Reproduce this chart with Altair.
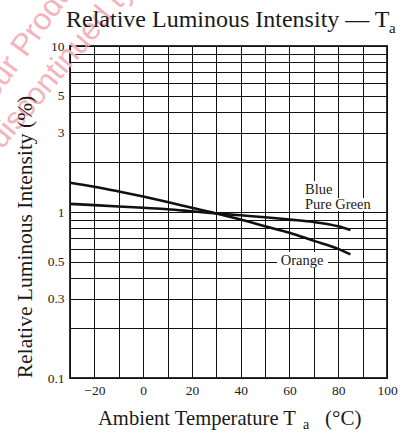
import altair as alt
import pandas as pd

# ---- data ----
temps = [-30, -20, -10, 0, 10, 20, 30, 40, 50, 60, 70, 80, 85]
orange_vals = [1.50, 1.42, 1.33, 1.24, 1.15, 1.06, 0.98, 0.90, 0.82, 0.75, 0.67, 0.60, 0.555]
blue_green_vals = [1.12, 1.10, 1.08, 1.06, 1.04, 1.01, 0.98, 0.955, 0.93, 0.90, 0.87, 0.82, 0.78]

x_grid = [-30, -20, -10, 0, 10, 20, 30, 40, 50, 60, 70, 80, 90, 100]
y_grid = [0.1, 0.2, 0.3, 0.4, 0.5, 0.6, 0.7, 0.8, 0.9,
          1, 2, 3, 4, 5, 6, 7, 8, 9, 10]
y_labels = [0.1, 0.3, 0.5, 1, 3, 5, 10]

rows = []
for t, v in zip(temps, orange_vals):
    rows.append({"series": "Orange", "temp": t, "value": v})
for t, v in zip(temps, blue_green_vals):
    rows.append({"series": "Blue / Pure Green", "temp": t, "value": v})
df = pd.DataFrame(rows)

FONT = "'Liberation Serif', 'Times New Roman', Tinos, 'DejaVu Serif', serif"
one = pd.DataFrame({"k": [0]})

y_label_expr = ("indexof([" + ",".join(str(v) for v in y_labels) +
                "], datum.value) >= 0 ? format(datum.value, '~g') : ''")

x_axis = alt.Axis(values=x_grid, labelExpr="datum.value % 20 == 0 ? datum.label : ''",
                  grid=True, gridColor="#111", gridWidth=1, ticks=False, domain=False,
                  title=None, labelPadding=5, labelFlush=False, labelOverlap=False)
y_axis = alt.Axis(values=y_grid, labelExpr=y_label_expr, grid=True, gridColor="#111",
                  gridWidth=1, ticks=False, domain=False, title=None, labelPadding=6,
                  labelOverlap=False, labelFlush=False)

lines = alt.Chart(df).mark_line(color="#111", strokeWidth=2.6, interpolate="monotone").encode(
    x=alt.X("temp:Q", scale=alt.Scale(domain=[-30, 100], nice=False), axis=x_axis),
    y=alt.Y("value:Q", scale=alt.Scale(type="log", domain=[0.1, 10], nice=False), axis=y_axis),
    detail="series:N",
)


def txt(s, x, y, size, align="left", angle=0, font=FONT, color="#1a1a1a", baseline="alphabetic"):
    kw = dict(text=s, align=align, baseline=baseline, fontSize=size, font=font, color=color)
    if angle:
        kw["angle"] = angle
    return alt.Chart(one).mark_text(**kw).encode(x=alt.value(x), y=alt.value(y))


def box(x1, x2, y1, y2):
    return alt.Chart(one).mark_rect(color="white").encode(
        x=alt.value(x1), x2=alt.value(x2), y=alt.value(y1), y2=alt.value(y2))


WM_FONT = "'Liberation Sans', Arial, sans-serif"
watermark = alt.layer(
    txt("Your Product", -86, 70, 31, angle=306, font=WM_FONT, color="#f6b3bc"),
    txt("discontinued ty", -68, 104, 31, angle=310, font=WM_FONT, color="#f6b3bc"),
)

annotations = alt.layer(
    box(233, 268, 135, 152),
    box(233, 304, 152, 165),
    box(207, 258, 206, 222),
    txt("Blue", 235, 148, 14.5),
    txt("Pure Green", 235, 163, 14.5),
    txt("Orange", 232, 219, 14.5, align="center"),
)

titles = alt.layer(
    txt("Relative Luminous Intensity \u2014 T", -4, -19, 24),
    txt("a", 319, -13, 15),
    txt("Ambient Temperature  T", 28, 379, 20.6),
    txt("a", 233, 383, 14),
    txt("(\u00b0C)", 255, 379, 21),
    txt("Relative Luminous Intensity  (%)", -38, 191, 21.5, align="center", angle=270),
)

chart = alt.layer(watermark, lines, annotations, titles).properties(
    width=317, height=332,
    padding={"left": 70, "top": 46, "right": 13, "bottom": 54},
    autosize="none",
).configure_view(stroke="#333", strokeWidth=2).configure_axis(
    labelFont=FONT, labelFontSize=13.5, labelColor="#222"
)

chart.save("out.html", embed_options={"renderer": "svg", "actions": False})
